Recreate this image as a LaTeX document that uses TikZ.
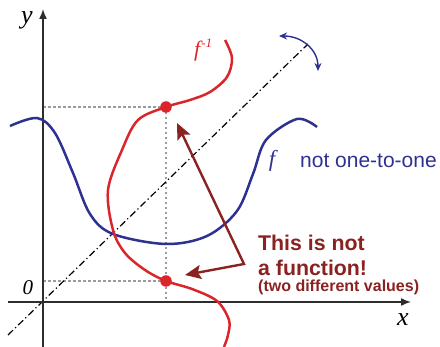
\documentclass[tikz,border=0pt]{standalone}
\usepackage{fontspec}
\setmainfont{Liberation Serif}
\setsansfont{Liberation Sans}
\usetikzlibrary{arrows.meta}
\definecolor{fblue}{RGB}{46,49,146}
\definecolor{fred}{RGB}{218,37,43}
\definecolor{dred}{RGB}{138,34,34}
\definecolor{axisc}{RGB}{45,45,45}
\definecolor{guidec}{RGB}{155,155,155}
\begin{document}
\begin{tikzpicture}[x=1pt,y=-1pt,
  axis/.style={draw=axisc, line width=1.5pt, -{Latex[length=10pt,width=8pt]}},
  guide/.style={draw=guidec, line width=1.3pt, dash pattern=on 2.5pt off 2.5pt},
  diag/.style={draw=black, line width=1.2pt, dash pattern=on 7pt off 3pt on 1.2pt off 3pt},
  curvef/.style={draw=fblue, line width=2.5pt},
  curveinv/.style={draw=fred, line width=2.5pt},
  dotpt/.style={circle, fill=fred, inner sep=0pt, minimum size=11.5pt},
  pointer/.style={draw=dred, line width=2.4pt, line join=miter, {Stealth[length=16pt,width=14pt,inset=3pt]}-{Stealth[length=16pt,width=14pt,inset=3pt]}},
  rotarrow/.style={draw=fblue, line width=1.4pt, {Stealth[length=8pt,width=7pt]}-{Stealth[length=8pt,width=7pt]}},
  lbl/.style={font=\fontsize{26}{26}\selectfont\itshape, inner sep=0pt, anchor=base},
  msg/.style={text=dred, font=\sffamily\bfseries\fontsize{21.3}{25}\selectfont, inner sep=0pt, anchor=base west},
]
\useasboundingbox (0,0) rectangle (440,347);
% axes
\coordinate (xs) at (8,302);
\coordinate (xe) at (411,302);
\coordinate (ys) at (43,347);
\coordinate (ye) at (43,9);
% key points
\coordinate (pP) at (166,107);
\coordinate (pQ) at (166,281);
\coordinate (Py) at (43,107);
\coordinate (Qy) at (43,281);
\coordinate (Px) at (166,302);
% guides
\draw[guide] (Py) -- (pP);
\draw[guide] (Qy) -- (pQ);
\draw[guide] (pP) -- (Px);
% diagonal y = x
\coordinate (d1) at (8,335);
\coordinate (d2) at (308,44);
\draw[diag] (d1) -- (d2);
% axes on top of guides
\draw[axis] (xs) -- (xe);
\draw[axis] (ys) -- (ye);
% rotation arrow
\coordinate (r1) at (279,36);
\coordinate (r2) at (318,71);
\draw[rotarrow] (r1) .. controls (302,36) and (318,50) .. (r2);
% f
\draw[curvef] plot[smooth, tension=0.55] coordinates {(10,126) (37,118) (55,133) (73,173) (90,214) (113,234) (166,244) (207,236) (237,211) (253,174) (266,140) (297,119) (317,127)};
% f^{-1}
\draw[curveinv] plot[smooth, tension=0.55] coordinates {(225,40) (232,58) (227,77) (210,92) (190,100) (166,107) (138,120) (122,150) (108,190) (113,230) (125,253) (145,270) (166,281) (192,289) (217,301) (229,320) (228,335) (224,347)};
% dots
\node[dotpt] (P) at (pP) {};
\node[dotpt] (Q) at (pQ) {};
% pointers
\coordinate (C) at (244,264);
\coordinate (t1) at (177,123);
\coordinate (t2) at (185,275);
\draw[pointer] (t1) -- (C) -- (t2);
% labels
\node[lbl] (ylab) at (27,24) {y};
\node[lbl] (xlab) at (403,326) {x};
\node[lbl, font=\fontsize{21}{21}\selectfont\itshape] (zero) at (28,295) {0};
\node[lbl, text=fblue, font=\fontsize{23}{23}\selectfont\itshape] (flab) at (272,167) {f};
\node[inner sep=0pt, anchor=base west, text=fred, font=\fontsize{22}{22}\selectfont\itshape] (finv) at (194,57) {f\kern1pt\raisebox{9pt}{\fontsize{13}{13}\selectfont -1}};
\node[inner sep=0pt, anchor=base west, text=fblue, font=\sffamily\fontsize{21}{25}\selectfont] (nto) at (300,168) {not one-to-one};
\node[msg] (m1) at (258,251) {This is not};
\node[msg] (m2) at (258,276) {a function!};
\node[msg, font=\sffamily\bfseries\fontsize{16}{18}\selectfont] (m3) at (258,292) {(two different values)};
\end{tikzpicture}
\end{document}
